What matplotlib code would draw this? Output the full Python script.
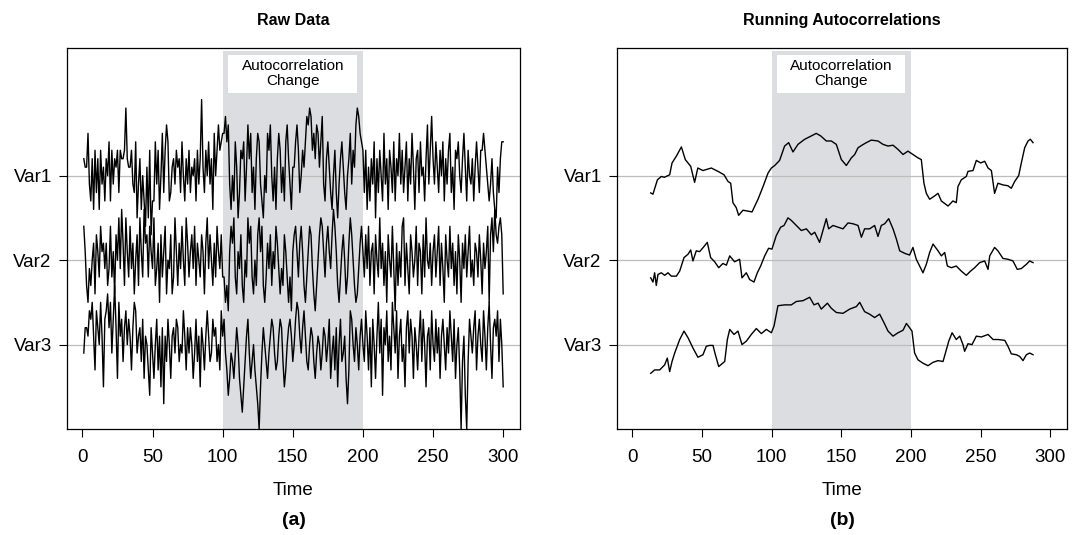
import numpy as np
import matplotlib
matplotlib.use("Agg")
import matplotlib.pyplot as plt
from matplotlib.patches import Rectangle

plt.rcParams['font.family'] = ['Liberation Sans', 'DejaVu Sans']

# raw series, offsets from each variable's level, in tenths (t = 1..300)
var1_raw = [
    2, 1, 1, 5, -1, -3, 2, -4, 3, -2,
    2, -4, 3, -1, 1, -3, 2, 0, 4, -3,
    3, -1, 2, 1, 3, -2, 3, 2, 2, 3,
    8, 2, 1, 1, 3, -1, -2, 4, -5, -1,
    2, -4, 0, -3, -6, 1, -5, 3, -7, -3,
    -3, 4, -1, 3, -4, 0, 5, -2, 3, 6,
    4, -3, -2, 1, 2, -1, 3, 1, 2, -2,
    4, 0, -3, 2, -1, 3, -2, 1, 0, 2,
    -3, 3, -1, 2, 9, 1, -2, 3, 0, 4,
    -1, 2, -4, 5, 0, 3, 6, 3, 4, 5,
    5, 7, 4, 6, -1, -4, 0, -3, 4, 1,
    -5, -2, 3, 2, 4, -3, 1, 6, 2, 5,
    -2, 1, -4, 2, 5, 4, -1, -3, -5, 0,
    -2, 5, 3, 6, 0, -3, 1, -4, 2, 5,
    3, -2, 1, -3, 4, 6, 2, -1, -4, 1,
    1, 4, 6, 3, -2, 0, 3, 1, 4, 7,
    6, 8, 7, 3, 5, 2, 6, 5, 1, 4,
    7, -1, -3, 2, 4, 1, -2, -4, 0, 3,
    -2, -5, -1, 2, 4, 1, -2, -4, 0, 2,
    5, -1, 3, 1, 6, 8, 7, 5, 4, 3,
    -2, 3, -4, 1, -3, 2, -1, 4, -5, 2,
    -2, 3, 0, -3, 5, -1, 2, -4, 3, 1,
    -2, 4, -3, 2, 0, 5, -1, 3, -2, 1,
    4, -3, 2, -1, 5, 1, -4, 2, 3, -2,
    4, 0, 1, -3, 2, 6, -1, 3, 7, 2,
    -1, 4, 1, -2, 3, 0, 4, -3, 2, -1,
    3, 5, -2, 1, -4, 3, 2, 4, 0, -2,
    2, 5, 1, -3, 3, 0, -1, 2, -3, 1,
    4, 1, -2, 3, 3, 5, 3, 1, -1, -3,
    -1, 2, -2, -4, -5, 1, -2, 2, 4, 4,
]
var2_raw = [
    4, 1, -3, -5, -1, -3, 0, 2, -4, 3,
    1, -2, 4, 1, 2, -1, 2, -3, -1, 4,
    -2, 1, -4, 3, 0, 5, -1, 6, 2, -3,
    5, 1, -2, 4, -1, 2, -4, 0, 3, -3,
    5, 1, -2, 6, 2, 3, -2, 4, 1, -1,
    5, -3, -1, 2, -5, 3, -2, 1, 4, -4,
    0, -1, 3, -4, -2, 5, 1, -3, 2, -1,
    4, 0, -3, 5, 2, -2, 1, 3, -1, 4,
    -3, 2, 0, -2, 3, 1, -4, 2, 5, -1,
    3, 0, -3, 2, -2, 4, 1, -1, 3, -2,
    -2, -5, -3, -6, 1, 4, 2, 5, -2, -4,
    1, -1, 3, -3, -5, 0, -2, 5, 2, 4,
    -2, -4, 0, -3, 3, 5, 1, 4, -3, -5,
    -2, 2, -1, 3, -3, 1, -1, 4, 2, -1,
    -4, -1, -3, 3, 1, -2, -5, -2, -6, 1,
    3, 4, 1, -2, 2, 4, 1, -3, -5, -2,
    1, 4, 3, -1, -4, -6, -3, 0, 3, 5,
    4, 1, -2, 2, 4, 1, -1, 3, 6, 4,
    1, -3, -5, -2, 1, 3, 0, -4, -2, 2,
    5, 3, 0, -3, -5, -4, -1, 2, 4, 1,
    -2, 3, -1, 4, -3, 1, 2, -4, 3, 0,
    -2, 5, -1, 2, -3, 1, -5, 3, 0, -2,
    4, -1, -6, 2, -3, 1, -2, 4, 5, -3,
    2, -1, -4, 3, 1, -2, 0, 4, -3, 2,
    1, -4, 3, -2, 5, 0, -1, 2, -3, 1,
    3, -2, 1, 4, -3, 2, -1, -5, 3, 0,
    -2, 4, -1, 2, -3, 1, -4, 3, 0, -5,
    2, -1, 3, -2, 1, 4, -2, 0, -3, 2,
    1, -2, 3, 0, -4, 2, -1, 1, 4, -5,
    3, 5, 1, 6, 3, 2, 4, 5, 3, -4,
]
var3_raw = [
    -1, 2, 2, 1, 4, 3, 5, 1, -3, 4,
    2, 0, 5, 1, -5, 3, 4, 6, 2, 5,
    -1, 3, 7, 2, -4, 5, 1, 3, -2, 2,
    4, 0, 3, 1, -3, 2, 5, 4, -1, 1,
    2, -2, 3, -4, 1, 0, -3, -6, 2, -1,
    -4, 0, 3, -3, 1, -5, 2, -7, 1, -2,
    3, 0, -4, 1, 2, -1, 3, 2, -2, 0,
    -1, 4, 1, -3, 2, -1, 2, 0, -4, -1,
    3, -2, 1, -5, 2, 0, -3, 1, 4, 1,
    -2, -1, 3, 1, 2, -2, 0, -3, 4, 1,
    3, -1, -3, -6, -4, -1, -2, -4, -1, 2,
    0, -4, -6, -8, -5, -2, 1, 3, -1, -4,
    -2, 0, -3, -5, -7, -10, -5, -1, 2, 0,
    -2, -4, -1, 1, 3, 2, -1, -3, -2, 1,
    3, 2, -2, -5, -3, 0, 2, 3, 1, -2,
    0, 3, 5, 4, 1, -1, 2, 4, 1, -2,
    -3, 0, 2, 1, -2, -4, -1, 1, 0, -3,
    -1, 2, 1, -2, 0, 3, -4, -1, 1, -3,
    2, -5, 0, 3, -2, -1, 1, -4, -7, -3,
    4, 3, 0, -2, 2, 0, -3, 1, 3, 0,
    -2, 4, 1, -3, 2, -5, 3, 0, -4, 1,
    5, -1, 3, -6, 2, 0, 4, -2, 1, -3,
    5, 2, -1, 4, -4, 1, 3, -2, 0, -5,
    2, 4, -1, 3, 1, -4, 2, 0, -3, 1,
    4, -2, 3, 0, -5, 1, 2, -3, 4, 0,
    -2, 3, -1, 2, -4, 1, 3, 0, -3, 2,
    -1, 4, 1, -2, 3, -4, 0, 2, -3, -10,
    -2, 1, -6, -10, -2, 3, 1, -1, 2, 4,
    -3, 1, 3, 0, -2, 4, 1, -3, 2, 5,
    0, -4, 2, 3, 1, 4, -2, 3, 0, -5,
]

# running autocorrelations, offsets from each variable's level
var1_t = [13.2, 14.8, 18, 20.8, 23, 26.8, 28.5, 31.6, 35.2, 38, 41.9, 44.7, 47, 50.7,
          56.7, 61.5, 65.8, 68.7, 70.6, 72.2, 74.6, 76.3, 79.4, 83, 85.9, 90.2, 93.8,
          97.4, 99.8, 102.2, 105.7, 109.3, 112.2, 115.3, 118.9, 123.7, 128.5, 132,
          135.2, 139.2, 142.8, 146.4, 150, 153.6, 157.2, 159.6, 162, 164.8, 167.9,
          171.5, 176.3, 179.9, 183.5, 187.1, 190.7, 194.3, 197.8, 201.4, 205, 207.4,
          209.3, 211, 213.4, 217, 219.4, 221.8, 226.6, 230.1, 232.5, 233.7, 236.1,
          239.7, 240.9, 244.5, 246.9, 250, 252.9, 255.3, 257.7, 260, 262.4, 266,
          269.6, 272, 274.4, 277.3, 279.2, 281.6, 284, 285.7, 287.6]
var1_ac = [-0.205, -0.22, -0.05, -0.01, -0.02, 0.01, 0.15, 0.23, 0.34, 0.19, 0.11,
           -0.08, 0.09, 0.06, 0.09, 0.05, 0.01, -0.07, -0.09, -0.32, -0.38, -0.47,
           -0.41, -0.42, -0.43, -0.28, -0.13, 0.03, 0.09, 0.12, 0.18, 0.35, 0.39,
           0.28, 0.37, 0.43, 0.47, 0.50, 0.47, 0.41, 0.41, 0.37, 0.19, 0.12, 0.21,
           0.25, 0.33, 0.36, 0.39, 0.42, 0.41, 0.37, 0.35, 0.36, 0.31, 0.25, 0.29,
           0.25, 0.21, 0.19, -0.09, -0.21, -0.28, -0.24, -0.21, -0.30, -0.36, -0.30,
           -0.32, -0.13, -0.05, -0.01, 0.05, 0.06, 0.18, 0.15, 0.17, 0.09, 0.06,
           -0.21, -0.09, -0.11, -0.12, -0.15, -0.07, 0.0, 0.15, 0.33, 0.41, 0.43, 0.39]

var2_t = [13.2, 14.8, 16, 17.2, 18.4, 20.8, 23.2, 25.6, 28, 31.6, 34, 37.1, 40, 41.9,
          43.5, 45.9, 48.3, 51.4, 53.8, 56.2, 59.1, 62, 65, 67.5, 69.9, 73.4, 77,
          78.7, 81.8, 84.2, 87.3, 89.7, 92.1, 95, 97.8, 100.2, 103.3, 106.5, 108.9,
          111.7, 114.1, 117.7, 121.3, 124.9, 128.5, 130.9, 134.4, 136.8, 139.2,
          140.9, 144, 147.6, 151.2, 154.8, 158.4, 162, 164.4, 166.7, 170.3, 173.9,
          176.3, 178.7, 181.1, 184, 187.1, 189.5, 191.9, 195.5, 199, 201.4, 203.8,
          206.2, 208.6, 211, 213.4, 215.8, 219.4, 221.8, 224.2, 226.1, 229, 232.5,
          236.1, 239.7, 242.8, 245.7, 249.3, 252.9, 255.3, 256.5, 260, 262.4, 266,
          269.6, 273.2, 276.3, 279.2, 282.8, 285.2, 287.6]
var2_ac = [-0.21, -0.26, -0.15, -0.30, -0.17, -0.15, -0.18, -0.15, -0.19, -0.19,
           -0.13, 0.03, 0.07, 0.12, -0.01, 0.11, 0.10, 0.16, 0.21, 0.03, -0.02,
           -0.09, -0.04, -0.06, 0.05, -0.02, 0.01, -0.21, -0.15, -0.23, -0.26,
           -0.15, -0.07, 0.05, 0.14, 0.13, 0.29, 0.39, 0.41, 0.50, 0.47, 0.41,
           0.35, 0.37, 0.30, 0.33, 0.21, 0.35, 0.49, 0.37, 0.41, 0.39, 0.37, 0.44,
           0.43, 0.41, 0.27, 0.37, 0.37, 0.41, 0.28, 0.41, 0.43, 0.49, 0.37, 0.25,
           0.11, 0.08, 0.06, 0.15, 0.01, -0.07, -0.15, -0.05, 0.09, 0.19, 0.11,
           0.05, 0.09, -0.07, -0.09, -0.07, -0.13, -0.18, -0.13, -0.09, -0.03,
           -0.01, -0.11, 0.05, 0.15, 0.11, 0.02, 0.01, -0.01, -0.11, -0.10, -0.05,
           -0.01, -0.03]

var3_t = [13.2, 16, 19.6, 23.2, 25.1, 26.8, 28.5, 30.4, 34, 37.1, 40, 43.5, 47.1,
          50.7, 53.1, 55.5, 57.9, 59.6, 62, 66.3, 68.2, 69.9, 73, 75.8, 78.7, 81.8,
          85.4, 89, 92.6, 96.2, 99.8, 101.7, 104.5, 109.3, 114.1, 117.7, 122.5,
          127.3, 130.4, 133.3, 135.6, 140, 142.8, 146.4, 151.2, 156, 160.8, 163.2,
          166.7, 170.3, 173.9, 177.5, 180.6, 183.5, 187.1, 190.7, 194.3, 196.7, 199,
          200.7, 202.6, 205, 208.6, 212.2, 215.8, 219.4, 223, 225.4, 227.1, 229.5,
          232.5, 235, 237.3, 238.5, 240.9, 243.8, 246.9, 250.5, 255.3, 258.9, 262.5,
          267.3, 269.6, 272, 275.6, 278, 280.4, 282.8, 285.2, 287.6]
var3_ac = [-0.34, -0.30, -0.30, -0.24, -0.16, -0.32, -0.20, -0.10, 0.06, 0.16, 0.08,
           -0.04, -0.15, -0.12, -0.02, -0.01, -0.01, -0.12, -0.26, -0.20, 0.06, 0.18,
           0.12, 0.16, 0.0, 0.04, 0.12, 0.19, 0.13, 0.18, 0.14, 0.22, 0.46, 0.47,
           0.47, 0.51, 0.52, 0.56, 0.47, 0.49, 0.42, 0.49, 0.43, 0.38, 0.37, 0.42,
           0.45, 0.50, 0.39, 0.36, 0.32, 0.36, 0.26, 0.16, 0.10, 0.14, 0.17, 0.25,
           0.20, 0.16, -0.10, -0.18, -0.22, -0.25, -0.21, -0.19, -0.20, -0.06, 0.04,
           0.14, 0.06, 0.10, 0.0, -0.08, 0.01, 0.0, 0.10, 0.09, 0.12, 0.06, 0.06,
           0.05, -0.02, -0.11, -0.12, -0.14, -0.19, -0.12, -0.10, -0.12]

var_names = ["Var1", "Var2", "Var3"]
var_levels = [3, 2, 1]
change_start, change_end = 100, 200
x_ticks = [0, 50, 100, 150, 200, 250, 300]

fig = plt.figure(figsize=(10.8, 5.35), dpi=100)
ax_a = fig.add_axes([0.062, 0.198, 0.4195, 0.7122])
ax_b = fig.add_axes([0.5713, 0.198, 0.4167, 0.7122])


def setup(ax, title, letter):
    ax.set_xlim(-11, 312)
    ax.set_ylim(0.0, 4.51)
    ax.axvspan(change_start, change_end, ymin=0, ymax=0.992, color="#dcdde0", lw=0, zorder=0)
    ax.add_patch(Rectangle((103.8, 3.98), 92.1, 0.45, facecolor="white", edgecolor="none", zorder=1))
    ax.text(150, 4.205, "Autocorrelation\nChange", ha="center", va="center",
            fontsize=11, linespacing=1.1, zorder=2)
    for lv in var_levels:
        ax.axhline(lv, color="#bdbdbd", lw=0.9, zorder=1)
    ax.set_xticks(x_ticks)
    ax.set_yticks(var_levels)
    ax.set_yticklabels(var_names)
    ax.tick_params(axis="both", direction="out", length=6, width=0.8, labelsize=13.5)
    ax.tick_params(axis="x", pad=8)
    ax.tick_params(axis="y", pad=5)
    for sp in ax.spines.values():
        sp.set_linewidth(0.9)
    pos = ax.get_position()
    cx = pos.x0 + pos.width / 2
    fig.text(cx, 0.9626, title, ha="center", va="center", fontsize=11.5, fontweight="bold")
    fig.text(cx, 0.084, "Time", ha="center", va="center", fontsize=13.5)
    fig.text(cx, 0.028, letter, ha="center", va="center", fontsize=14, fontweight="bold")


setup(ax_a, "Raw Data", "(a)")
setup(ax_b, "Running Autocorrelations", "(b)")

t_raw = np.arange(1, len(var1_raw) + 1)
for raw, lv in zip([var1_raw, var2_raw, var3_raw], var_levels):
    ax_a.plot(t_raw, lv + np.array(raw) / 10.0, color="black", lw=1.0, zorder=3)

for tt, ac, lv in zip([var1_t, var2_t, var3_t], [var1_ac, var2_ac, var3_ac], var_levels):
    ax_b.plot(tt, lv + np.array(ac), color="black", lw=1.0, zorder=3)

fig.savefig("out.png", dpi=100)
